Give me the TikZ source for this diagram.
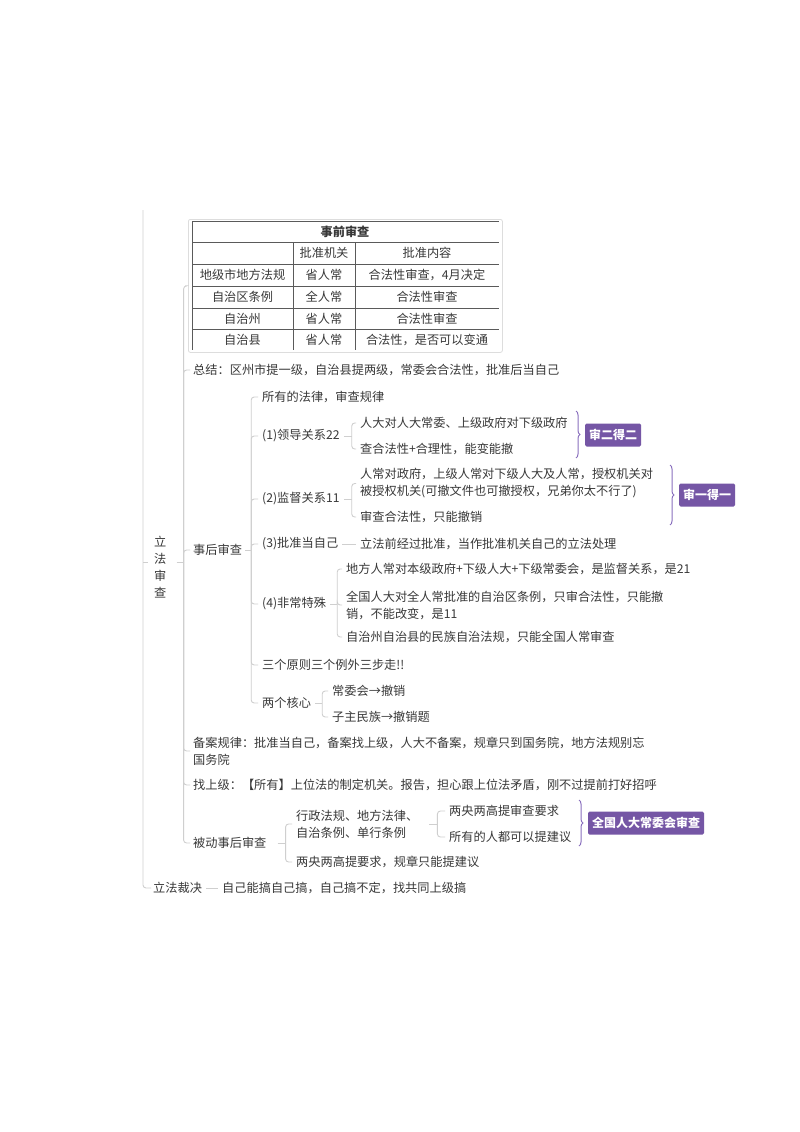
\documentclass[tikz,border=0pt]{standalone}
\usepackage{fontspec}
\setmainfont{Noto Sans CJK SC}
\usetikzlibrary{decorations.pathreplacing}
\definecolor{txt}{HTML}{383838}
\definecolor{ln}{HTML}{CFCFCF}
\definecolor{pbox}{HTML}{7556A5}
\definecolor{pbr}{HTML}{8A70BE}
\definecolor{tbl}{HTML}{5A5A5A}
\definecolor{tbox}{HTML}{DDDDDD}
\begin{document}
\begin{tikzpicture}[x=1pt,y=-1pt,
  t/.style={anchor=west,inner sep=0pt,font=\fontsize{12.2}{17}\selectfont,text=txt,align=left},
  tc/.style={inner sep=0pt,font=\fontsize{12.2}{17}\selectfont,text=txt},
  conn/.style={draw=ln,line width=0.9pt,rounded corners=3pt},
  grid/.style={draw=tbl,line width=0.8pt},
  tag/.style={fill=pbox,text=white,font=\fontsize{12}{14}\bfseries\selectfont,rounded corners=1.5pt,inner xsep=4pt,inner ysep=0pt,minimum height=23pt},
  br/.style={draw=pbr,line width=1pt,decorate,decoration={brace,amplitude=4pt}},
]
\useasboundingbox[fill=white] (0,0) rectangle (800,1132);

% ---------- table ----------
\node[draw=tbox,line width=0.8pt,rounded corners=2pt,minimum width=314pt,minimum height=133pt,anchor=north west,inner sep=0pt] (tbl) at (188,219) {};
\draw[grid] (192,221) -- (499,221);
\foreach \yy in {242,264,286,308,329} \draw[grid] (192,\yy) -- (499,\yy);
\draw[grid] (192,221) -- (192,350);
\draw[grid] (293,242) -- (293,350);
\draw[grid] (355,242) -- (355,350);
\node[tc,font=\fontsize{12.2}{17}\bfseries\selectfont] (th) at (345,232) {事前审查};
\node[tc] (h2) at (324,253) {批准机关};
\node[tc] (h3) at (427,253) {批准内容};
\node[tc] (r1a) at (242.5,275) {地级市地方法规};
\node[tc] (r1b) at (324,275) {省人常};
\node[tc] (r1c) at (427,275) {合法性审查，4月决定};
\node[tc] (r2a) at (242.5,297) {自治区条例};
\node[tc] (r2b) at (324,297) {全人常};
\node[tc] (r2c) at (427,297) {合法性审查};
\node[tc] (r3a) at (242.5,319) {自治州};
\node[tc] (r3b) at (324,319) {省人常};
\node[tc] (r3c) at (427,319) {合法性审查};
\node[tc] (r4a) at (242.5,340) {自治县};
\node[tc] (r4b) at (324,340) {省人常};
\node[tc] (r4c) at (427,340) {合法性，是否可以变通};

% ---------- nodes ----------
\coordinate (top) at (143,210);
\node[t,align=center] (root) at (154,567) {立\\法\\审\\查};
\node[t] (cj) at (153,888) {立法裁决};
\node[t] (cj1) at (222,888) {自己能搞自己搞，自己搞不定，找共同上级搞};

\node[t] (zj) at (193,370) {总结：区州市提一级，自治县提两级，常委会合法性，批准后当自己};
\node[t] (sh) at (193,550) {事后审查};
\node[t] (ba) at (193,751) {备案规律：批准当自己，备案找上级，人大不备案，规章只到国务院，地方法规别忘\\国务院};
\node[t] (zsj) at (193,785) {找上级：【所有】上位法的制定机关。报告，担心跟上位法矛盾，刚不过提前打好招呼};
\node[t] (bd) at (193,843) {被动事后审查};

\node[t] (a1) at (262,397) {所有的法律，审查规律};
\node[t] (ld) at (262,436) {(1)领导关系22};
\node[t] (jd) at (262,499) {(2)监督关系11};
\node[t] (pz) at (262,544) {(3)批准当自己};
\node[t] (fc) at (262,604) {(4)非常特殊};
\node[t] (sy) at (262,665) {三个原则三个例外三步走!!};
\node[t] (hx) at (262,703) {两个核心};

\node[t] (ld1) at (360,423) {人大对人大常委、上级政府对下级政府};
\node[t] (ld2) at (360,449) {查合法性+合理性，能变能撤};
\node[t] (jd1) at (360,483.5) {人常对政府，上级人常对下级人大及人常，授权机关对\\被授权机关(可撤文件也可撤授权，兄弟你太不行了)};
\node[t] (jd2) at (360,517) {审查合法性，只能撤销};
\node[t] (pz1) at (360,544) {立法前经过批准，当作批准机关自己的立法处理};
\node[t] (fc1) at (346,569) {地方人常对本级政府+下级人大+下级常委会，是监督关系，是21};
\node[t] (fc2) at (346,605) {全国人大对全人常批准的自治区条例，只审合法性，只能撤\\销，不能改变，是11};
\node[t] (fc3) at (346,637) {自治州自治县的民族自治法规，只能全国人常审查};
\node[t] (hx1) at (332,691) {常委会→撤销};
\node[t] (hx2) at (332,717) {子主民族→撤销题};
\node[t] (xz) at (296,824) {行政法规、地方法律、\\自治条例、单行条例};
\node[t] (bd2) at (296,862) {两央两高提要求，规章只能提建议};
\node[t] (xz1) at (449,811) {两央两高提审查要求};
\node[t] (xz2) at (449,837) {所有的人都可以提建议};

% ---------- tags ----------
\node[tag] (tg1) at (613,435) {审二得二};
\node[tag] (tg2) at (707,495) {审一得一};
\node[tag] (tg3) at (646,823) {全国人大常委会审查};
\draw[br] (576,411) -- (576,458);
\draw[br] (670,465) -- (670,525);
\draw[br] (579,800) -- (579,846);

% ---------- connectors ----------
% outer level
\draw[conn] (top) |- ([xshift=-2pt]cj.west);
\draw[conn] ([yshift=5pt]top |- root.west) -- ([xshift=-6pt,yshift=5pt]root.west);
\draw[conn] ([xshift=4pt]cj.east) -- ([xshift=-4pt]cj1.west);
% root children
\coordinate (jroot) at ([xshift=17pt,yshift=5pt]root.east);
\draw[conn] ([xshift=10pt,yshift=5pt]root.east) -- (jroot);
\foreach \c in {tbl,zj,sh,ba,zsj,bd} \draw[conn] (jroot) |- ([xshift=-3pt]\c.west);
% 事后审查
\coordinate (jsh) at ([xshift=9pt]sh.east);
\draw[conn] ([xshift=3pt]sh.east) -- (jsh);
\foreach \c in {a1,ld,jd,pz,fc,sy,hx} \draw[conn] (jsh) |- ([xshift=-4pt]\c.west);
% (1)
\coordinate (jld) at ([xshift=12pt]ld.east);
\draw[conn] ([xshift=4pt]ld.east) -- (jld);
\foreach \c in {ld1,ld2} \draw[conn] (jld) |- ([xshift=-4pt]\c.west);
% (2)
\coordinate (jjd) at ([xshift=12pt]jd.east);
\draw[conn] ([xshift=4pt]jd.east) -- (jjd);
\foreach \c in {jd1,jd2} \draw[conn] (jjd) |- ([xshift=-4pt]\c.west);
% (3)
\draw[conn] ([xshift=4pt]pz.east) -- ([xshift=-4pt]pz1.west);
% (4)
\coordinate (jfc) at ([xshift=11pt]fc.east);
\draw[conn] ([xshift=4pt]fc.east) -- (jfc);
\foreach \c in {fc1,fc2,fc3} \draw[conn] (jfc) |- ([xshift=-4pt]\c.west);
% 两个核心
\coordinate (jhx) at ([xshift=11pt]hx.east);
\draw[conn] ([xshift=4pt]hx.east) -- (jhx);
\foreach \c in {hx1,hx2} \draw[conn] (jhx) |- ([xshift=-4pt]\c.west);
% 被动事后审查
\coordinate (jbd) at ([xshift=19pt]bd.east);
\draw[conn] ([xshift=11pt]bd.east) -- (jbd);
\foreach \c in {xz,bd2} \draw[conn] (jbd) |- ([xshift=-4pt]\c.west);
% 行政法规
\coordinate (jxz) at ([xshift=19pt]xz.east);
\draw[conn] ([xshift=11pt]xz.east) -- (jxz);
\foreach \c in {xz1,xz2} \draw[conn] (jxz) |- ([xshift=-4pt]\c.west);
\end{tikzpicture}
\end{document}
